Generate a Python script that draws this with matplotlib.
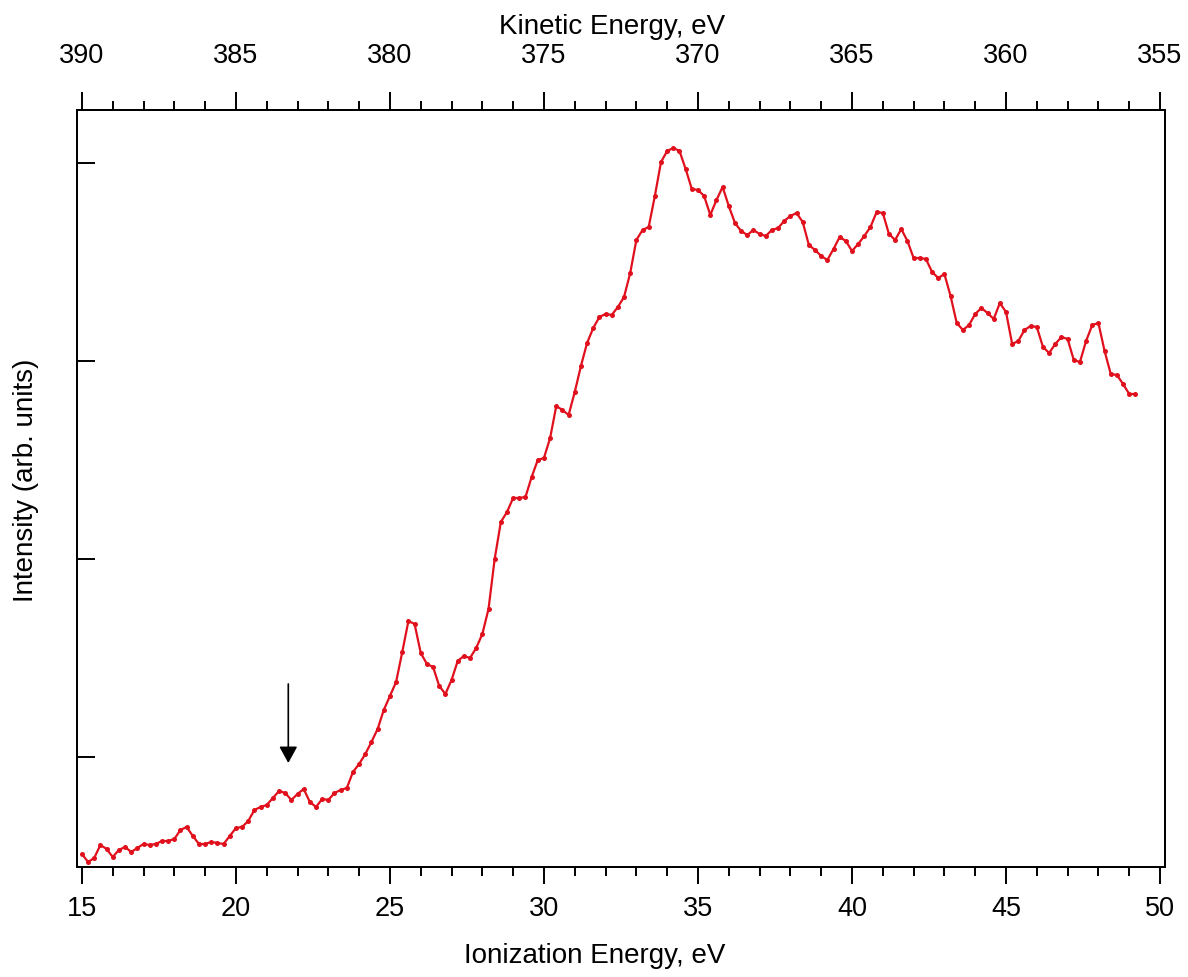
import numpy as np
import matplotlib.pyplot as plt

plt.rcParams['font.family'] = ['Liberation Sans', 'DejaVu Sans']

# intensity (arb. units), one point every 0.2 eV from 15.0 eV
intensity = [
    13, 5, 9, 22, 18, 10, 17, 20, 15, 19,
    23, 22, 23, 26, 26, 28, 37, 40, 31, 23,
    23, 25, 24, 23, 31, 39, 40, 46, 57, 60,
    62, 69, 76, 74, 67, 73, 78, 65, 60, 68,
    67, 74, 77, 79, 95, 103, 113, 125, 138, 157,
    171, 185, 215, 246, 243, 214, 203, 200, 181, 173,
    187, 206, 211, 209, 219, 233, 258, 308, 345, 355,
    369, 369, 370, 390, 407, 409, 429, 461, 457, 452,
    475, 501, 524, 539, 550, 553, 552, 560, 570, 594,
    627, 637, 640, 671, 705, 716, 719, 716, 698, 678,
    677, 671, 652, 667, 680, 661, 644, 636, 632, 637,
    633, 631, 637, 639, 646, 651, 654, 645, 622, 617,
    611, 607, 618, 630, 626, 616, 623, 631, 640, 655,
    654, 633, 627, 638, 626, 609, 609, 608, 595, 589,
    593, 571, 544, 537, 542, 553, 559, 554, 548, 564,
    555, 523, 526, 537, 541, 540, 520, 514, 523, 530,
    528, 507, 505, 526, 542, 544, 516, 493, 492, 483,
    473, 473,
]
ie_start = 15.0
ie_step = 0.2
ionization_energy = np.round(ie_start + ie_step * np.arange(len(intensity)), 1)

ie_ticks = [15, 20, 25, 30, 35, 40, 45, 50]
ke_ticks = [390, 385, 380, 375, 370, 365, 360, 355]
ke_offset = 405.0  # kinetic energy = 405 - ionization energy
y_ticks = [110, 308, 506, 704]

# arrow marking the onset
arrow_ie = 21.7
arrow_from = 183
arrow_to = 104

red = '#e0101c'

fig = plt.figure(figsize=(11.88, 9.78), dpi=100)
ax = fig.add_axes([0.0648, 0.1125, 0.9158, 0.774])

ax.plot(ionization_energy, intensity, '-o', color=red, lw=1.6, ms=3.6,
        markeredgewidth=0)

ax.annotate('', xy=(arrow_ie, arrow_to), xytext=(arrow_ie, arrow_from),
            arrowprops=dict(arrowstyle='-|>,head_length=1.0,head_width=0.55',
                            color='black', lw=1.2, shrinkA=0, shrinkB=0))

xlo, xhi = 14.84, 50.16
ax.set_xlim(xlo, xhi)
ax.set_ylim(0, 757)

ax.set_xticks(ie_ticks)
ax.set_xticks(np.arange(16, 50, 1), minor=True)
ax.set_yticks(y_ticks)
ax.set_yticklabels([])
ax.tick_params(axis='x', which='major', direction='out', length=12, width=1.4,
               labelsize=19.5, pad=8, top=False)
ax.tick_params(axis='x', which='minor', direction='out', length=6.5, width=1.4,
               top=False)
ax.tick_params(axis='y', which='major', direction='in', length=13, width=1.4,
               right=False)
for sp in ax.spines.values():
    sp.set_linewidth(1.4)

ax.set_xlabel('Ionization Energy, eV', fontsize=20, labelpad=15, x=0.476)
ax.set_ylabel('Intensity (arb. units)', fontsize=20)
ax.yaxis.set_label_coords(-0.035, 0.5125)

# top axis: kinetic energy
ax2 = ax.twiny()
ax2.set_xlim(ke_offset - xlo, ke_offset - xhi)
ax2.set_xticks(ke_ticks)
ax2.set_xticks(np.arange(389, 355, -1), minor=True)
ax2.tick_params(axis='x', which='major', direction='out', length=13, width=1.4,
                labelsize=19.5, pad=17)
ax2.tick_params(axis='x', which='minor', direction='out', length=6.5, width=1.4)
ax2.set_xlabel('Kinetic Energy, eV', fontsize=20, va='baseline')
ax2.xaxis.set_label_coords(0.4917, 1.1017)
for sp in ax2.spines.values():
    sp.set_linewidth(1.4)

fig.savefig('out.png', dpi=100)
